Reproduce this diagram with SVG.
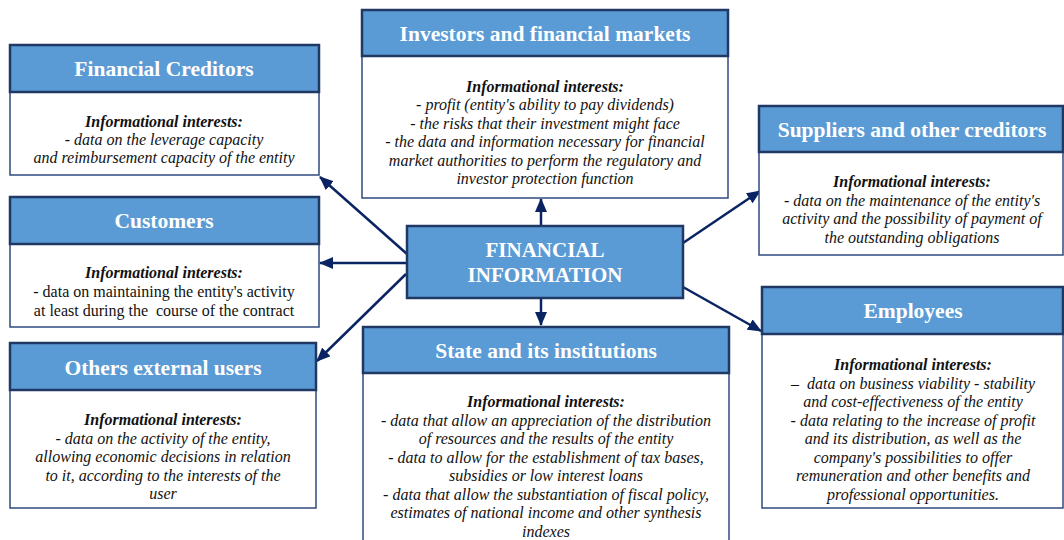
<svg xmlns="http://www.w3.org/2000/svg" width="1064" height="540" viewBox="0 0 1064 540">
<style>
.hdr{fill:#5B9BD5;stroke:#1F3864;stroke-width:2.5}
.body{fill:#fff;stroke:#2F4A7F;stroke-width:1.5}
.title{font-family:"Liberation Serif","Times New Roman",serif;font-weight:bold;font-size:21.5px;fill:#fff;text-anchor:middle}
.ctitle{font-family:"Liberation Serif","Times New Roman",serif;font-weight:bold;font-size:21px;fill:#fff;text-anchor:middle}
.txt{font-family:"Liberation Serif","Times New Roman",serif;font-style:italic;font-size:16px;fill:#111;text-anchor:middle}
.reg{font-style:normal}
.lbl{font-weight:bold;font-style:italic}
.conn{stroke:#0A2463;stroke-width:2.5;fill:none;marker-end:url(#ah)}
</style>
<defs>
<marker id="ah" markerUnits="userSpaceOnUse" markerWidth="14" markerHeight="12" refX="13" refY="6" orient="auto">
<path d="M0,0 L14,6 L0,12 z" fill="#0A2463"/>
</marker>
</defs>
<rect width="1064" height="540" fill="#fff"/>

<g id="connectors">
<line class="conn" x1="541" y1="226" x2="541" y2="199"/>
<line class="conn" x1="541" y1="298" x2="541" y2="325"/>
<line class="conn" x1="407" y1="254" x2="320" y2="177"/>
<line class="conn" x1="407" y1="263" x2="320" y2="263"/>
<line class="conn" x1="406" y1="274" x2="317" y2="361"/>
<line class="conn" x1="683" y1="243" x2="760" y2="191"/>
<line class="conn" x1="683" y1="287" x2="761" y2="331"/>
</g>

<g id="financial-information">
<rect class="hdr" x="407" y="226" width="276" height="72"/>
<text class="ctitle" x="545" y="257">FINANCIAL</text>
<text class="ctitle" x="545" y="282">INFORMATION</text>
</g>

<g id="financial-creditors">
<rect class="body" x="10" y="92" width="309" height="83"/>
<rect class="hdr" x="10" y="45" width="309" height="47"/>
<text class="title" x="164" y="76">Financial Creditors</text>
<text class="txt" x="164" y="127"><tspan class="lbl">Informational interests:</tspan></text>
<text class="txt" x="164" y="145">- data on the leverage capacity</text>
<text class="txt" x="164" y="163">and reimbursement capacity of the entity</text>
</g>

<g id="investors">
<rect class="body" x="362" y="56" width="366" height="142"/>
<rect class="hdr" x="362" y="10" width="366" height="46"/>
<text class="title" x="545" y="41">Investors and financial markets</text>
<text class="txt" x="545" y="92"><tspan class="lbl">Informational interests:</tspan></text>
<text class="txt" x="545" y="110.4">- profit (entity's ability to pay dividends)</text>
<text class="txt" x="545" y="128.8">- the risks that their investment might face</text>
<text class="txt" x="545" y="147.2">- the data and information necessary for financial</text>
<text class="txt" x="545" y="165.6">market authorities to perform the regulatory and</text>
<text class="txt" x="545" y="184">investor protection function</text>
</g>

<g id="suppliers">
<rect class="body" x="759" y="152" width="304" height="103"/>
<rect class="hdr" x="759" y="106" width="304" height="46"/>
<text class="title" x="912" y="137">Suppliers and other creditors</text>
<text class="txt" x="912" y="187"><tspan class="lbl">Informational interests:</tspan></text>
<text class="txt" x="912" y="205.5">- data on the maintenance of the entity's</text>
<text class="txt" x="912" y="224">activity and the possibility of payment of</text>
<text class="txt" x="912" y="242.5">the outstanding obligations</text>
</g>

<g id="customers">
<rect class="body" x="10" y="244" width="309" height="83"/>
<rect class="hdr" x="10" y="197" width="309" height="47"/>
<text class="title" x="164" y="228">Customers</text>
<text class="txt" x="164" y="278"><tspan class="lbl">Informational interests:</tspan></text>
<text class="txt reg" x="164" y="297">- data on maintaining the entity's activity</text>
<text class="txt reg" x="164" y="316">at least during the &#160;course of the contract</text>
</g>

<g id="others">
<rect class="body" x="10" y="390" width="306" height="118"/>
<rect class="hdr" x="10" y="343" width="306" height="47"/>
<text class="title" x="163" y="375">Others external users</text>
<text class="txt" x="163" y="425"><tspan class="lbl">Informational interests:</tspan></text>
<text class="txt" x="163" y="443.5">- data on the activity of the entity,</text>
<text class="txt" x="163" y="462">allowing economic decisions in relation</text>
<text class="txt" x="163" y="480.5">to it, according to the interests of the</text>
<text class="txt" x="163" y="499">user</text>
</g>

<g id="state">
<rect class="body" x="363" y="373" width="366" height="175"/>
<rect class="hdr" x="363" y="327" width="366" height="46"/>
<text class="title" x="546" y="358">State and its institutions</text>
<text class="txt" x="546" y="407"><tspan class="lbl">Informational interests:</tspan></text>
<text class="txt" x="546" y="425.5">- data that allow an appreciation of the distribution</text>
<text class="txt" x="546" y="444">of resources and the results of the entity</text>
<text class="txt" x="546" y="462.5">- data to allow for the establishment of tax bases,</text>
<text class="txt" x="546" y="481">subsidies or low interest loans</text>
<text class="txt" x="546" y="499.5">- data that allow the substantiation of fiscal policy,</text>
<text class="txt" x="546" y="518">estimates of national income and other synthesis</text>
<text class="txt" x="546" y="536.5">indexes</text>
</g>

<g id="employees">
<rect class="body" x="762" y="334" width="301" height="174"/>
<rect class="hdr" x="762" y="287" width="301" height="47"/>
<text class="title" x="913" y="318">Employees</text>
<text class="txt" x="913" y="370"><tspan class="lbl">Informational interests:</tspan></text>
<text class="txt" x="913" y="388.5">– &#160;data on business viability - stability</text>
<text class="txt" x="913" y="407">and cost-effectiveness of the entity</text>
<text class="txt" x="913" y="425.5">- data relating to the increase of profit</text>
<text class="txt" x="913" y="444">and its distribution, as well as the</text>
<text class="txt" x="913" y="462.5">company's possibilities to offer</text>
<text class="txt" x="913" y="481">remuneration and other benefits and</text>
<text class="txt" x="913" y="499.5">professional opportunities.</text>
</g>
</svg>
